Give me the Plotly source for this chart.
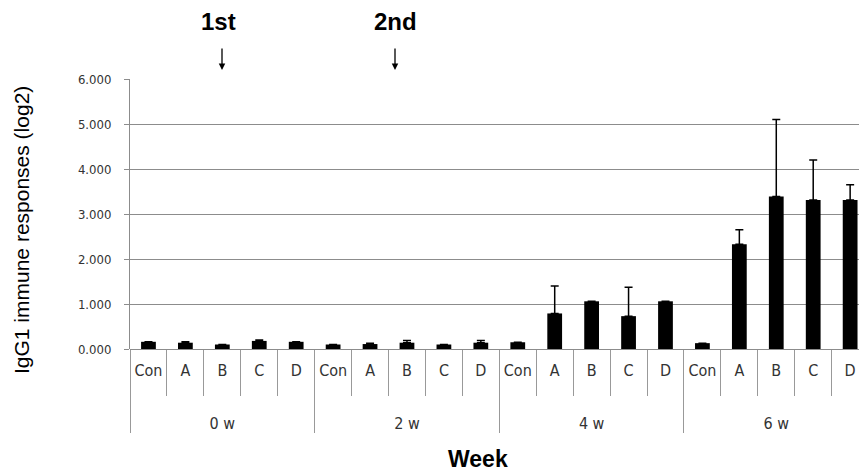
import plotly.graph_objects as go

groups = ["Con", "A", "B", "C", "D"]
weeks = ["0 w", "2 w", "4 w", "6 w"]
means = {
    "0 w": [0.16, 0.14, 0.10, 0.18, 0.16],
    "2 w": [0.10, 0.11, 0.14, 0.10, 0.14],
    "4 w": [0.15, 0.79, 1.06, 0.73, 1.06],
    "6 w": [0.13, 2.33, 3.39, 3.31, 3.31],
}
errors = {
    "0 w": [0.0, 0.02, 0.0, 0.02, 0.0],
    "2 w": [0.0, 0.02, 0.05, 0.0, 0.05],
    "4 w": [0.0, 0.61, 0.0, 0.64, 0.0],
    "6 w": [0.0, 0.32, 1.71, 0.89, 0.34],
}
y_ticks = [0, 1, 2, 3, 4, 5, 6]

outer, inner, vals, errs = [], [], [], []
for w in weeks:
    for g, v, e in zip(groups, means[w], errors[w]):
        outer.append("<br><br>" + w + "<br>")
        inner.append(g)
        vals.append(v)
        errs.append(e)

lab_font = "DejaVu Sans Condensed, DejaVu Sans, Arial"
title_font = "Liberation Sans, Arial"

fig = go.Figure()
fig.add_trace(go.Bar(
    x=[outer, inner], y=vals,
    marker=dict(color="black", line=dict(width=0)),
    error_y=dict(type="data", symmetric=False, array=errs,
                 arrayminus=[0] * len(errs), color="black",
                 thickness=1.5, width=4),
))

fig.update_layout(
    width=859, height=472,
    margin=dict(l=130, r=0, t=79, b=123, autoexpand=False),
    paper_bgcolor="white", plot_bgcolor="white",
    bargap=0.6, showlegend=False,
    xaxis=dict(
        type="multicategory", range=[-0.5, 19.24], automargin=False,
        showline=False, showgrid=False, tickangle=0,
        ticks="outside", ticklen=46, tickcolor="#999", tickwidth=1,
        ticklabelstandoff=10,
        showdividers=True, dividercolor="#999", dividerwidth=1,
        tickfont=dict(family=lab_font, size=16, color="#333"),
    ),
    yaxis=dict(
        range=[0, 6], tickvals=y_ticks, tickformat=".3f", automargin=False,
        showgrid=True, gridcolor="#8c8c8c", gridwidth=1,
        showline=True, linecolor="#8c8c8c", linewidth=1,
        ticks="outside", ticklen=5, tickcolor="#8c8c8c",
        zeroline=True, zerolinecolor="#8c8c8c", zerolinewidth=1,
        ticklabelstandoff=10,
        tickfont=dict(family=lab_font, size=13, color="#333"),
    ),
)

# axis titles
fig.add_annotation(xref="paper", yref="paper", x=(478 - 130) / 729, y=-(459 - 349) / 270,
                   text="<b>Week</b>", showarrow=False, xanchor="center", yanchor="middle",
                   font=dict(family=title_font, size=23, color="black"))
fig.add_annotation(xref="paper", yref="paper", x=-(130 - 21) / 729, y=(349 - 230) / 270,
                   text="IgG1 immune responses (log2)", showarrow=False, textangle=-90,
                   xanchor="center", yanchor="middle",
                   font=dict(family=title_font, size=21, color="black"))

# dose annotations
for label, xt, xa in [("1st", 218, 222), ("2nd", 395, 395)]:
    fig.add_annotation(xref="paper", yref="paper", x=(xt - 130) / 729, y=1 + (79 - 21) / 270,
                       text="<b>" + label + "</b>", showarrow=False,
                       xanchor="center", yanchor="middle",
                       font=dict(family=title_font, size=24, color="black"))
    fig.add_annotation(xref="paper", yref="paper", x=(xa - 130) / 729, y=1 + (79 - 70) / 270,
                       ax=0, ay=-23, text="", showarrow=True,
                       arrowhead=2, arrowsize=1, arrowwidth=1.3, arrowcolor="black")

fig.write_html(
    "out.html",
    config={"displayModeBar": False},
    post_script="document.body.style.margin='0px';document.body.style.overflow='hidden';",
)
